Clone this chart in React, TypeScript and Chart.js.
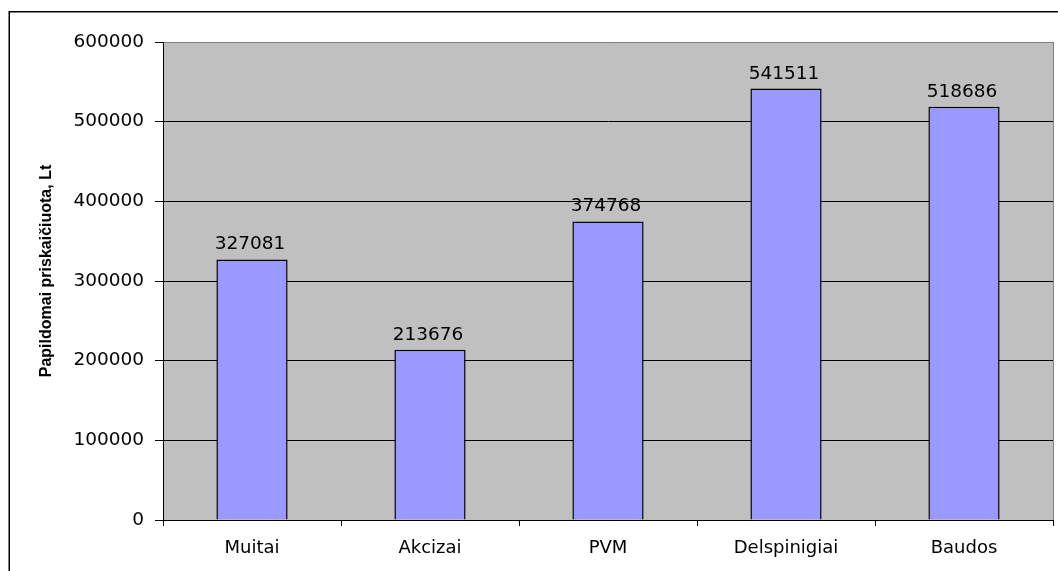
import React, { useEffect, useRef } from "react";
import { Chart, registerables } from "chart.js";

Chart.register(...registerables);

const categories = ["Muitai", "Akcizai", "PVM", "Delspinigiai", "Baudos"];
const values = [327081, 213676, 374768, 541511, 518686];
const yTicks = [0, 100000, 200000, 300000, 400000, 500000, 600000];
const yTitle = "Papildomai priskaičiuota, Lt";

const W = 1058;
const H = 571;

const decorPlugin = {
  id: "decor",
  beforeDraw(chart: any) {
    const { ctx, chartArea } = chart;
    ctx.save();
    ctx.fillStyle = "#ffffff";
    ctx.fillRect(0, 0, chart.width, chart.height);
    ctx.fillStyle = "#C0C0C0";
    ctx.fillRect(chartArea.left, chartArea.top, chartArea.right - chartArea.left, chartArea.bottom - chartArea.top);
    ctx.restore();
  },
  afterDraw(chart: any) {
    const { ctx, chartArea } = chart;
    ctx.save();
    // outer chart border (left & top)
    ctx.strokeStyle = "#000000";
    ctx.lineWidth = 1.5;
    ctx.beginPath();
    ctx.moveTo(9.25, H);
    ctx.lineTo(9.25, 11.75);
    ctx.lineTo(W, 11.75);
    ctx.stroke();
    // right plot border
    ctx.strokeStyle = "#808080";
    ctx.lineWidth = 1;
    ctx.beginPath();
    ctx.moveTo(Math.round(chartArea.right) + 0.5, chartArea.top);
    ctx.lineTo(Math.round(chartArea.right) + 0.5, chartArea.bottom);
    ctx.stroke();
    // data labels
    ctx.fillStyle = "#000000";
    ctx.font = "18.5px 'DejaVu Sans'";
    ctx.textAlign = "center";
    ctx.textBaseline = "alphabetic";
    const meta = chart.getDatasetMeta(0);
    meta.data.forEach((bar: any, i: number) => {
      ctx.fillText(String(values[i]), bar.x - 2, bar.y - 10);
    });
    // y axis title
    ctx.save();
    ctx.translate(47, 271);
    ctx.rotate(-Math.PI / 2);
    ctx.font = "bold 16px 'Liberation Sans', Arial";
    ctx.textAlign = "center";
    ctx.textBaseline = "middle";
    ctx.fillText(yTitle, 0, 0);
    ctx.restore();
    ctx.restore();
  },
};

export default function App() {
  const ref = useRef<HTMLCanvasElement | null>(null);
  useEffect(() => {
    if (!ref.current) return;
    const chart = new Chart(ref.current, {
      type: "bar",
      data: {
        labels: categories,
        datasets: [
          {
            data: values,
            backgroundColor: "#9999FF",
            borderColor: "#000000",
            borderWidth: 1.5,
            barPercentage: 0.4,
            categoryPercentage: 1,
          },
        ],
      },
      options: {
        animation: false,
        responsive: false,
        devicePixelRatio: 1,
        layout: { padding: { top: 42, right: 5, bottom: 0, left: 0 } },
        plugins: { legend: { display: false }, tooltip: { enabled: false } },
        scales: {
          x: {
            afterFit: (s: any) => { s.height = 51; },
            grid: {
              offset: true,
              drawOnChartArea: false,
              drawTicks: true,
              tickLength: 6,
              color: "#000000",
              tickColor: "#000000",
            },
            border: { color: "#000000", width: 1 },
            ticks: {
              color: "#000000",
              font: { family: "'DejaVu Sans'", size: 18 },
              padding: 12,
              maxRotation: 0,
              autoSkip: false,
            },
          },
          y: {
            min: 0,
            max: 600000,
            afterFit: (s: any) => { s.width = 163; },
            afterBuildTicks: (s: any) => { s.ticks = yTicks.map((v) => ({ value: v })); },
            grid: {
              color: (c: any) => (c.tick && c.tick.value === 600000 ? "#808080" : "#000000"),
              tickColor: "#000000",
              tickLength: 8,
              lineWidth: 1,
            },
            border: { color: "#000000", width: 1 },
            ticks: {
              color: "#000000",
              font: { family: "'DejaVu Sans'", size: 18.5 },
              padding: 11,
              callback: (v: any) => String(v),
            },
          },
        },
      },
      plugins: [decorPlugin],
    });
    return () => chart.destroy();
  }, []);
  return (
    <div style={{ position: "fixed", left: 0, top: 0, width: W, height: H, background: "#fff" }}>
      <canvas ref={ref} width={W} height={H} style={{ width: W, height: H, display: "block" }} />
    </div>
  );
}
